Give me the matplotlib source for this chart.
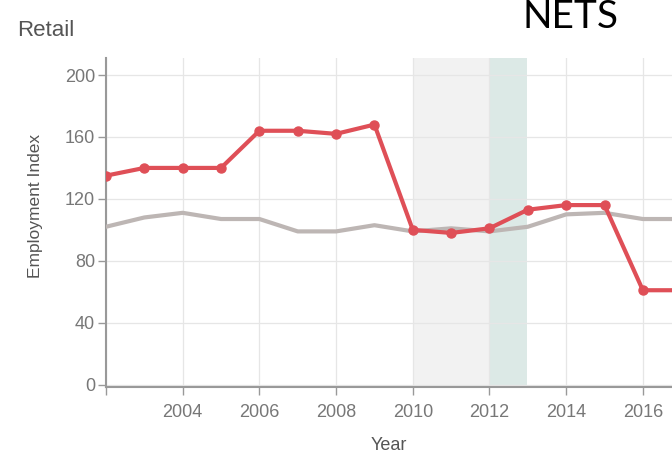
import matplotlib
matplotlib.use("Agg")
import matplotlib.pyplot as plt

years = [2002, 2003, 2004, 2005, 2006, 2007, 2008, 2009, 2010, 2011, 2012, 2013, 2014, 2015, 2016, 2017]
retail_nets = [135, 140, 140, 140, 164, 164, 162, 168, 100, 98, 101, 113, 116, 116, 61, 61]
retail_benchmark = [102, 108, 111, 107, 107, 99, 99, 103, 99, 101, 99, 102, 110, 111, 107, 107]
x_ticks = [2002, 2004, 2006, 2008, 2010, 2012, 2014, 2016]
x_tick_labels = ["", "2004", "2006", "2008", "2010", "2012", "2014", "2016"]
y_ticks = [0, 40, 80, 120, 160, 200]
shade_gray = (2010, 2012)
shade_teal = (2012, 2012.97)

plt.rcParams['font.family'] = ['Liberation Sans', 'DejaVu Sans']

fig = plt.figure(figsize=(6.72, 4.54), dpi=100)
ax = fig.add_axes([106/672, 1-387/454, 1-106/672, (387-58)/454])

ax.axvspan(*shade_gray, color='#f2f2f2', zorder=0, lw=0)
ax.axvspan(*shade_teal, color='#dce9e6', zorder=0, lw=0)

ax.plot(years, retail_benchmark, color='#bdb6b4', lw=3.0, zorder=3, solid_capstyle='round')
ax.plot(years, retail_nets, color='#df4f57', lw=3.0, marker='o', ms=6.5, zorder=4)

ax.set_xlim(2002, 2016.76)
ax.set_ylim(-1.5, 211)
ax.set_xticks(x_ticks)
ax.set_xticklabels(x_tick_labels)
ax.set_yticks(y_ticks)
ax.grid(True, color='#e6e6e6', lw=0.9, zorder=1)
ax.set_axisbelow(True)

for s in ['top', 'right']:
    ax.spines[s].set_visible(False)
for s in ['left', 'bottom']:
    ax.spines[s].set_color('#999999')
    ax.spines[s].set_linewidth(1.5)
ax.tick_params(axis='both', colors='#999999', labelcolor='#777777', labelsize=13, length=6, width=1)
ax.tick_params(axis='x', pad=6)
ax.tick_params(axis='y', pad=2)

ax.set_ylabel('Employment Index', fontsize=12.5, color='#555555')
ax.yaxis.set_label_coords((43 - 106) / (672 - 106), 0.55)
ax.set_xlabel('Year', fontsize=13, color='#555555', labelpad=12)

fig.text(17/672, 1-30/454, 'Retail', fontsize=16, color='#555555', va='center', ha='left')
fig.text(571/672, 1-28/454, 'NETS', fontsize=28, color='black', va='baseline', ha='center', family=['Lato', 'DejaVu Sans'])

fig.savefig('out.png', dpi=100)
